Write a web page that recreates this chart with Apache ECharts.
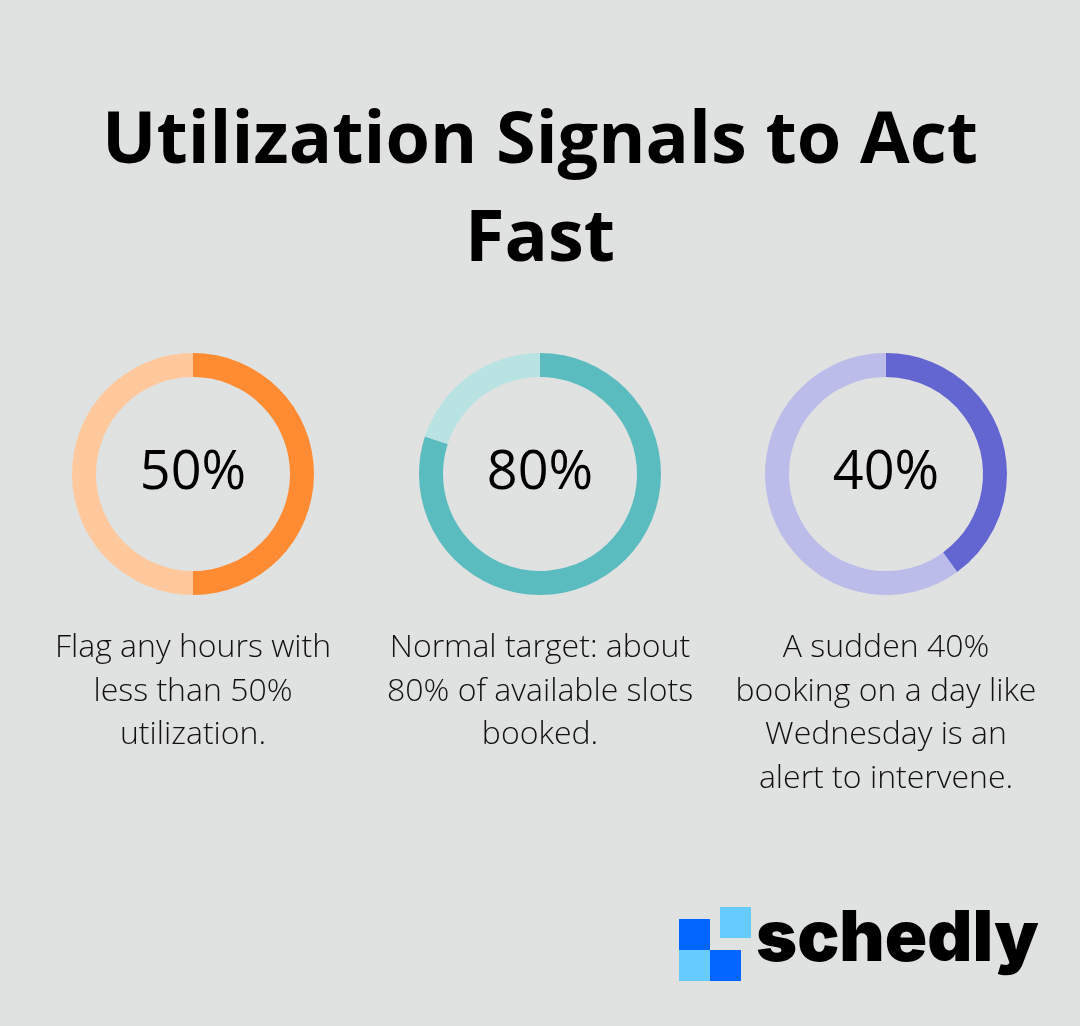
<!DOCTYPE html>
<html>
<head>
<meta charset="utf-8">
<script src="https://cdn.jsdelivr.net/npm/echarts@6/dist/echarts.min.js"></script>
<style>
html,body{margin:0;padding:0;background:#e0e2e1;}
#chart{width:1080px;height:1026px;}
</style>
</head>
<body>
<div id="chart"></div>
<script>
const titleLines = ['Utilization Signals to Act', 'Fast'];
const values = [50, 80, 40];
const valueLabels = ['50%', '80%', '40%'];
const descriptions = [
  ['Flag any hours with', 'less than 50%', 'utilization.'],
  ['Normal target: about', '80% of available slots', 'booked.'],
  ['A sudden 40%', 'booking on a day like', 'Wednesday is an', 'alert to intervene.']
];
const darkColors = ['#ff8c33', '#5bbcbf', '#6366d1'];
const lightColors = ['#ffc89c', '#b9e2e3', '#bbbcea'];
const brandName = 'schedly';

const centersX = [193, 540, 886];
const centerY = 474;

const series = values.map((v, i) => ({
  type: 'pie',
  center: [centersX[i], centerY],
  radius: [97, 121],
  startAngle: 90,
  clockwise: true,
  silent: true,
  animation: false,
  label: { show: false },
  labelLine: { show: false },
  data: [
    { value: v, itemStyle: { color: darkColors[i] } },
    { value: 100 - v, itemStyle: { color: lightColors[i] } }
  ]
}));

const graphics = [];
titleLines.forEach((t, i) => {
  graphics.push({
    type: 'text', x: 540, y: 142 + i * 98,
    style: { text: t, fontFamily: 'Open Sans', fontWeight: 'bold', fontSize: 72,
      fill: '#000', align: 'center', verticalAlign: 'middle' }
  });
});
values.forEach((v, i) => {
  graphics.push({
    type: 'text', x: centersX[i], y: centerY,
    style: { text: valueLabels[i], fontFamily: 'Open Sans', fontWeight: 'normal', fontSize: 54,
      fill: '#000', align: 'center', verticalAlign: 'middle' }
  });
  descriptions[i].forEach((line, j) => {
    graphics.push({
      type: 'text', x: centersX[i], y: 648 + j * 43.5,
      style: { text: line, fontFamily: 'Open Sans', fontWeight: 300, fontSize: 32,
        fill: '#111', align: 'center', verticalAlign: 'middle' }
    });
  });
});
// logo squares
const sq = [
  [679, 919, '#0066ff'], [720, 907, '#66ccff'],
  [679, 950, '#66ccff'], [710, 950, '#0066ff']
];
sq.forEach(s => graphics.push({
  type: 'rect', shape: { x: s[0], y: s[1], width: 31, height: 31 }, style: { fill: s[2] }
}));
graphics.push({
  type: 'text', x: 756, y: 940,
  style: { text: brandName, fontFamily: 'Inter', fontWeight: 900, fontSize: 70,
    fill: '#000', align: 'left', verticalAlign: 'middle' }
});

const chart = echarts.init(document.getElementById('chart'), null, { renderer: 'canvas' });
chart.setOption({
  backgroundColor: '#e0e2e1',
  animation: false,
  series: series,
  graphic: graphics
});
</script>
</body>
</html>
